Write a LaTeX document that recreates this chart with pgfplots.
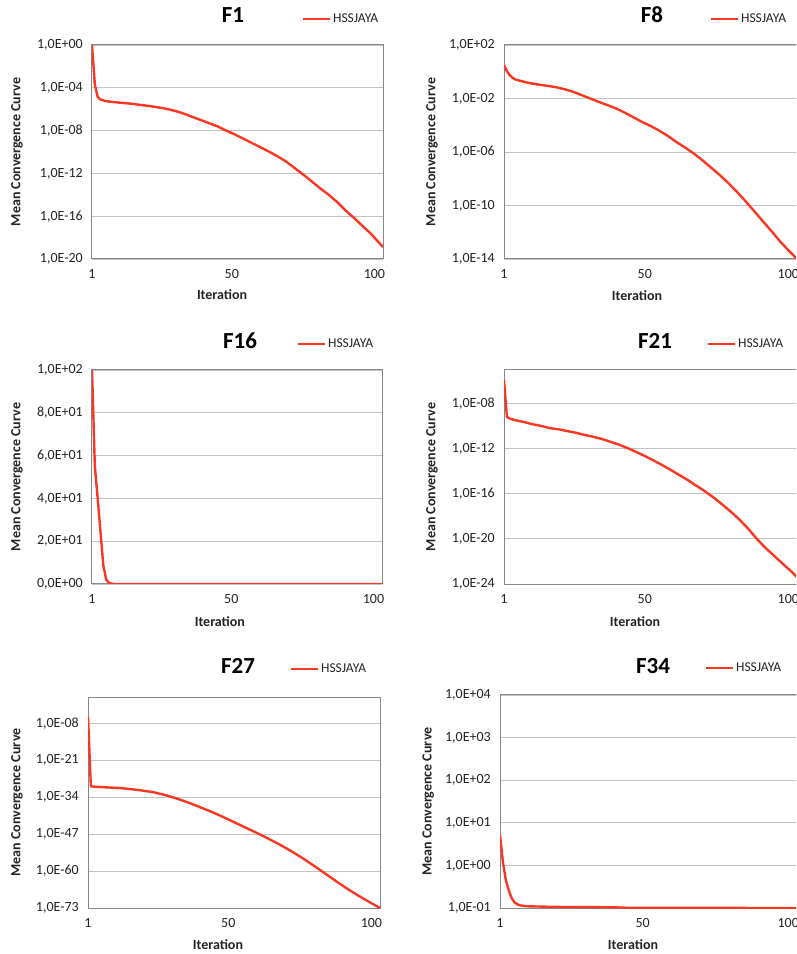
\documentclass[border=0pt]{standalone}
\usepackage{fontspec}
\setmainfont{Carlito}
\usepackage{pgfplots}
\usepackage{pgfplotstable}
\pgfplotsset{compat=1.18}

\definecolor{curve}{RGB}{250,55,35}
\definecolor{framec}{RGB}{134,134,134}
\definecolor{gridc}{RGB}{195,195,195}
\definecolor{txt}{RGB}{35,35,35}

\pgfplotstableread{
it v
1 1
2 2.0e-4
3 1.4e-5
4 7.9e-6
6 5.6e-6
9 4.5e-6
12 3.8e-6
15 3.2e-6
18 2.5e-6
21 2.0e-6
24 1.5e-6
27 1.1e-6
30 7.1e-7
33 4.0e-7
36 2.0e-7
39 1.0e-7
42 5.0e-8
45 2.5e-8
48 1.0e-8
51 4.5e-9
54 1.8e-9
57 7.1e-10
60 2.8e-10
63 1.1e-10
66 4.0e-11
69 1.3e-11
72 3.2e-12
75 7.9e-13
78 1.8e-13
81 4.0e-14
84 1.0e-14
87 2.0e-15
90 3.2e-16
93 6.3e-17
96 1.1e-17
99 2.0e-18
101 5.0e-19
103 1.3e-19
}\dataA

\pgfplotstableread{
it v
1 3.2
2 1.1
3 0.56
4 0.35
5 0.26
7 0.2
10 0.14
13 0.11
16 0.089
19 0.071
22 0.05
25 0.032
28 0.018
31 0.01
34 5.6e-3
37 3.2e-3
40 1.8e-3
43 8.9e-4
46 4.0e-4
49 1.8e-4
52 8.9e-5
55 4.0e-5
58 1.6e-5
61 5.6e-6
64 2.2e-6
67 7.9e-7
70 2.5e-7
73 7.1e-8
76 2.0e-8
79 5.0e-9
82 1.1e-9
85 2.2e-10
88 4.0e-11
91 7.1e-12
94 1.3e-12
97 2.2e-13
100 4.5e-14
103 1.0e-14
}\dataB

\pgfplotstableread{
it v
1 100
2 55
3 40
4 24
5 8.5
6 2
7 0.5
8 0.1
9 0.02
10 0
103 0
}\dataC

\pgfplotstableread{
it v
1 1.1e-6
2 6.3e-10
3 4.5e-10
5 3.2e-10
8 2.2e-10
11 1.4e-10
14 1.0e-10
17 6.3e-11
20 5.0e-11
23 3.5e-11
26 2.5e-11
29 1.6e-11
32 1.1e-11
35 7.1e-12
38 4.0e-12
41 2.2e-12
44 1.1e-12
47 5.0e-13
50 2.2e-13
53 8.9e-14
56 3.5e-14
59 1.3e-14
62 4.5e-15
65 1.6e-15
68 5.0e-16
71 1.6e-16
74 4.5e-17
77 1.1e-17
80 2.5e-18
83 5.0e-19
86 7.9e-20
89 1.0e-20
92 1.6e-21
95 3.2e-22
98 6.3e-23
101 1.3e-23
103 4.0e-24
}\dataD

\pgfplotstableread{
it v
1 2.0e-6
2 6.3e-31
4 4.0e-31
8 2.5e-31
12 1.6e-31
16 6.3e-32
20 2.0e-32
24 5.0e-33
28 5.0e-34
32 3.2e-35
36 1.3e-36
40 3.2e-38
44 7.9e-40
48 1.3e-41
52 1.6e-43
56 2.0e-45
60 2.5e-47
64 2.5e-49
68 2.0e-51
72 1.0e-53
76 3.2e-56
80 6.3e-59
84 1.0e-61
88 1.6e-64
92 3.2e-67
96 1.0e-69
100 5.0e-72
103 1.0e-73
}\dataE

\pgfplotstableread{
it v
1 5.2
2 1.2
3 0.45
4 0.26
5 0.17
6 0.135
7 0.122
8 0.115
10 0.11
15 0.108
20 0.106
30 0.105
40 0.104
45 0.101
60 0.1005
80 0.1003
103 0.1002
}\dataF

\pgfplotsset{
  panel/.style={
    scale only axis,
    anchor=south west,
    xmin=1, xmax=103,
    xtick={1,50,100},
    axis line style={framec, line width=1pt},
    major tick length=0pt,
    ymajorgrids, grid style={gridc, line width=0.9pt},
    tick label style={font=\fontsize{14}{16}\selectfont, text=txt},
    /pgf/number format/assume math mode=true,
    scaled y ticks=false,
    xticklabel style={anchor=north, inner sep=0pt, yshift=-10pt},
    yticklabel style={anchor=east, inner sep=0pt, xshift=-9pt},
    xlabel={Iteration}, ylabel={Mean Convergence Curve},
    label style={font=\bfseries\fontsize{14}{16}\selectfont, text=txt, anchor=center},
    title style={font=\bfseries\fontsize{23}{27}\selectfont, anchor=center, text=black},
    legend style={draw=none, fill=none, inner sep=0pt, anchor=west,
      font=\fontsize{13.5}{16}\selectfont, text=txt, nodes={inner sep=1.5pt}},
    legend cell align=left,
    legend image code/.code={\draw[#1] (0pt,0pt) -- (27pt,0pt);},
  },
  pl/.style={curve, line width=2.4pt, line join=round},
}

\begin{document}
\begin{tikzpicture}
\useasboundingbox (0,0) rectangle (796pt,954pt);
\clip (0,0) rectangle (796pt,954pt);

% F1
\begin{axis}[panel, at={(92pt,695pt)}, width=291pt, height=214pt,
  ymode=log, ymin=1e-20, ymax=1,
  ytick={1,1e-4,1e-8,1e-12,1e-16,1e-20},
  yticklabels={{1,0E+00},{1,0E-04},{1,0E-08},{1,0E-12},{1,0E-16},{1,0E-20}},
  title=F1, title style={at={(axis description cs:0,1)}, xshift=141pt, yshift=24pt},
  legend style={at={(axis description cs:0,1)}, xshift=210pt, yshift=26pt},
  xlabel style={at={(axis description cs:0.447,-0.168)}},
  ylabel style={at={(axis description cs:-0.258,0.5)}}]
\addplot[pl] table[x=it,y=v] {\dataA};
\addlegendentry{HSSJAYA}
\end{axis}

% F8
\begin{axis}[panel, at={(504pt,695pt)}, width=293pt, height=214pt,
  ymode=log, ymin=1e-14, ymax=1e2,
  ytick={1e2,1e-2,1e-6,1e-10,1e-14},
  yticklabels={{1,0E+02},{1,0E-02},{1,0E-06},{1,0E-10},{1,0E-14}},
  title=F8, title style={at={(axis description cs:0,1)}, xshift=148pt, yshift=24pt},
  legend style={at={(axis description cs:0,1)}, xshift=206pt, yshift=26pt},
  xlabel style={at={(axis description cs:0.454,-0.173)}},
  ylabel style={at={(axis description cs:-0.246,0.5)}}]
\addplot[pl] table[x=it,y=v] {\dataB};
\addlegendentry{HSSJAYA}
\end{axis}

% F16
\begin{axis}[panel, at={(92pt,370pt)}, width=290pt, height=214pt,
  ymin=0, ymax=100,
  ytick={0,20,40,60,80,100},
  yticklabels={{0,0E+00},{2,0E+01},{4,0E+01},{6,0E+01},{8,0E+01},{1,0E+02}},
  title=F16, title style={at={(axis description cs:0,1)}, xshift=148pt, yshift=23pt},
  legend style={at={(axis description cs:0,1)}, xshift=205pt, yshift=26pt},
  xlabel style={at={(axis description cs:0.441,-0.178)}},
  ylabel style={at={(axis description cs:-0.259,0.5)}}]
\addplot[pl] table[x=it,y=v] {\dataC};
\addlegendentry{HSSJAYA}
\end{axis}

% F21
\begin{axis}[panel, at={(504pt,370pt)}, width=293pt, height=214pt,
  ymode=log, ymin=1e-24, ymax=9e-6,
  ytick={1e-8,1e-12,1e-16,1e-20,1e-24},
  yticklabels={{1,0E-08},{1,0E-12},{1,0E-16},{1,0E-20},{1,0E-24}},
  title=F21, title style={at={(axis description cs:0,1)}, xshift=151pt, yshift=23pt},
  legend style={at={(axis description cs:0,1)}, xshift=203pt, yshift=26pt},
  xlabel style={at={(axis description cs:0.447,-0.178)}},
  ylabel style={at={(axis description cs:-0.246,0.5)}}]
\addplot[pl] table[x=it,y=v] {\dataD};
\addlegendentry{HSSJAYA}
\end{axis}

% F27
\begin{axis}[panel, at={(88pt,46pt)}, width=292pt, height=211pt,
  ymode=log, ymin=1e-73, ymax=16,
  ytick={1e-8,1e-21,1e-34,1e-47,1e-60,1e-73},
  yticklabels={{1,0E-08},{1,0E-21},{1,0E-34},{1,0E-47},{1,0E-60},{1,0E-73}},
  title=F27, title style={at={(axis description cs:0,1)}, xshift=150pt, yshift=25pt},
  legend style={at={(axis description cs:0,1)}, xshift=202pt, yshift=28pt},
  xlabel style={at={(axis description cs:0.445,-0.175)}},
  ylabel style={at={(axis description cs:-0.243,0.5)}}]
\addplot[pl] table[x=it,y=v] {\dataE};
\addlegendentry{HSSJAYA}
\end{axis}

% F34
\begin{axis}[panel, at={(500pt,46pt)}, width=297pt, height=213pt,
  ymode=log, ymin=0.1, ymax=1e4,
  ytick={1e4,1e3,1e2,1e1,1,0.1},
  yticklabels={{1,0E+04},{1,0E+03},{1,0E+02},{1,0E+01},{1,0E+00},{1,0E-01}},
  title=F34, title style={at={(axis description cs:0,1)}, xshift=153pt, yshift=23pt},
  legend style={at={(axis description cs:0,1)}, xshift=205pt, yshift=27pt},
  xlabel style={at={(axis description cs:0.448,-0.174)}},
  ylabel style={at={(axis description cs:-0.242,0.5)}}]
\addplot[pl] table[x=it,y=v] {\dataF};
\addlegendentry{HSSJAYA}
\end{axis}
\end{tikzpicture}
\end{document}
